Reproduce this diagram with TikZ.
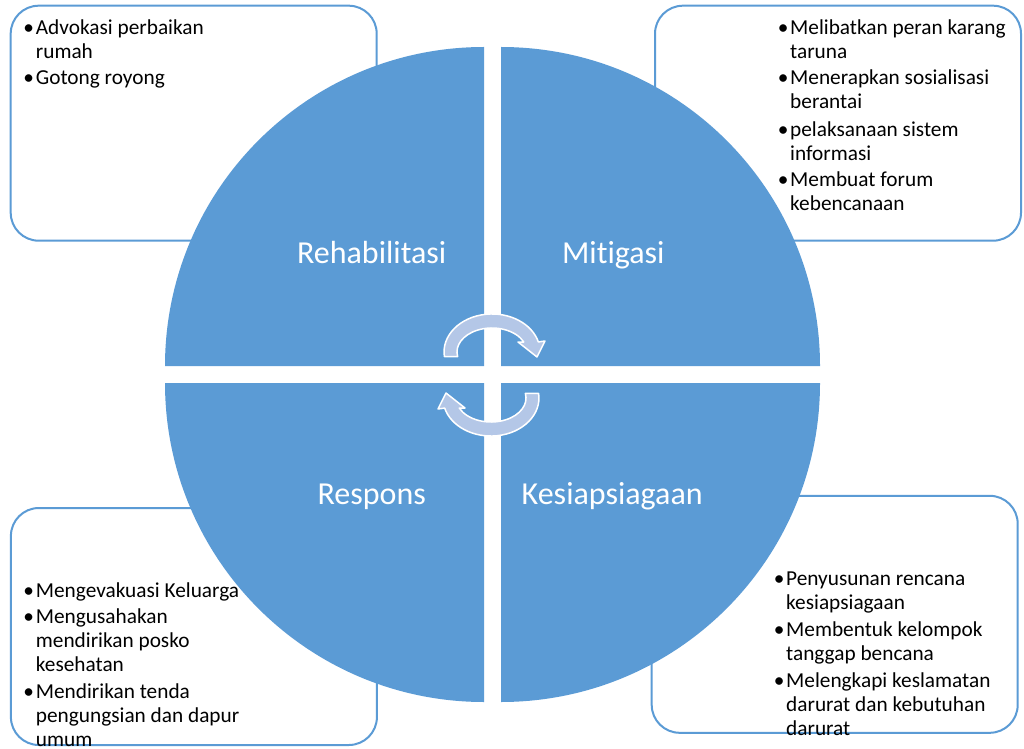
\documentclass[tikz,border=0pt]{standalone}
\usepackage{fontspec}
\setmainfont[Ligatures=NoCommon]{Carlito}
\definecolor{blu}{HTML}{5B9BD5}
\definecolor{arr}{HTML}{B4C7E7}
\newcommand\bl{\llap{•\kern1.8pt}}
\begin{document}
\begin{tikzpicture}[x=1pt,y=1pt,
  box/.style={draw=blu, line width=2pt, rounded corners=28pt, fill=white, inner sep=0pt, outer sep=0pt},
  quad/.style={fill=blu},
  lbl/.style={text=white, font=\fontsize{32}{36}\selectfont, anchor=base, inner sep=0pt},
  itm/.style={anchor=base west, inner sep=0pt, font=\fontsize{21.3}{24}\selectfont, text=black},
  cyc/.style={fill=arr, draw=white, line width=1.5pt, line join=round}]
\useasboundingbox (0,0) rectangle (1024,748);

% boxes
\node[box, minimum width=366pt, minimum height=235pt] (bTL) at (193.7,624.8) {};
\node[box, minimum width=366pt, minimum height=235pt] (bTR) at (838,624.8) {};
\node[box, minimum width=366pt, minimum height=237pt] (bBL) at (193.9,121.5) {};
\node[box, minimum width=366pt, minimum height=237pt] (bBR) at (834.7,133.7) {};

% box texts
\node[itm] (tl1) at (35.7,713.7) {\vtop{\hbox{\bl Advokasi perbaikan}\hbox{rumah}}};
\node[itm] (tl2) at (35.7,663.5) {\vtop{\hbox{\bl Gotong royong}}};

\node[itm] (tr1) at (790,713.7) {\vtop{\hbox{\bl Melibatkan peran karang}\hbox{taruna}}};
\node[itm] (tr2) at (790,663) {\vtop{\hbox{\bl Menerapkan sosialisasi}\hbox{berantai}}};
\node[itm] (tr3) at (790,611.5) {\vtop{\hbox{\bl pelaksanaan sistem}\hbox{informasi}}};
\node[itm] (tr4) at (790,561) {\vtop{\hbox{\bl Membuat forum}\hbox{kebencanaan}}};

\node[itm] (bl1) at (35.7,151) {\vtop{\hbox{\bl Mengevakuasi Keluarga}}};
\node[itm] (bl2) at (35.7,124.5) {\vtop{\hbox{\bl Mengusahakan}\hbox{mendirikan posko}\hbox{kesehatan}}};
\node[itm] (bl3) at (35.7,49.5) {\vtop{\hbox{\bl Mendirikan tenda}\hbox{pengungsian dan dapur}\hbox{umum}}};

\node[itm] (br1) at (786,163) {\vtop{\hbox{\bl Penyusunan rencana}\hbox{kesiapsiagaan}}};
\node[itm] (br2) at (786,112) {\vtop{\hbox{\bl Membentuk kelompok}\hbox{tanggap bencana}}};
\node[itm] (br3) at (786,61) {\vtop{\hbox{\bl Melengkapi keslamatan}\hbox{darurat dan kebutuhan}\hbox{darurat}}};

% quadrants
\fill[quad] (484,382) -- (165,382) arc[start angle=180, end angle=90, radius=319] -- cycle;
\fill[quad] (501,382) -- (501,701) arc[start angle=90, end angle=0, radius=319] -- cycle;
\fill[quad] (484,365) -- (165,365) arc[start angle=180, end angle=270, radius=319] -- cycle;
\fill[quad] (501,365) -- (820,365) arc[start angle=0, end angle=-90, radius=319] -- cycle;

% labels
\node[lbl] (rehab) at (371.7,484) {Rehabilitasi};
\node[lbl] (miti) at (613.3,484) {Mitigasi};
\node[lbl] (resp) at (371.7,243.7) {Respons};
\node[lbl] (kesi) at (612.2,244) {Kesiapsiagaan};

% cycle arrows
\path[cyc] (444.4,391.4) arc[start angle=187, end angle=15.3, x radius=48, y radius=38]
  -- (545,407) -- (537,391) -- (518,406) -- (523.8,406)
  arc[start angle=24.6, end angle=191, x radius=35, y radius=24] -- cycle;
\begin{scope}[rotate around={180:(491.5,373)}]
\path[cyc] (444.4,391.4) arc[start angle=187, end angle=15.3, x radius=48, y radius=38]
  -- (545,407) -- (537,391) -- (518,406) -- (523.8,406)
  arc[start angle=24.6, end angle=191, x radius=35, y radius=24] -- cycle;
\end{scope}
\end{tikzpicture}
\end{document}
